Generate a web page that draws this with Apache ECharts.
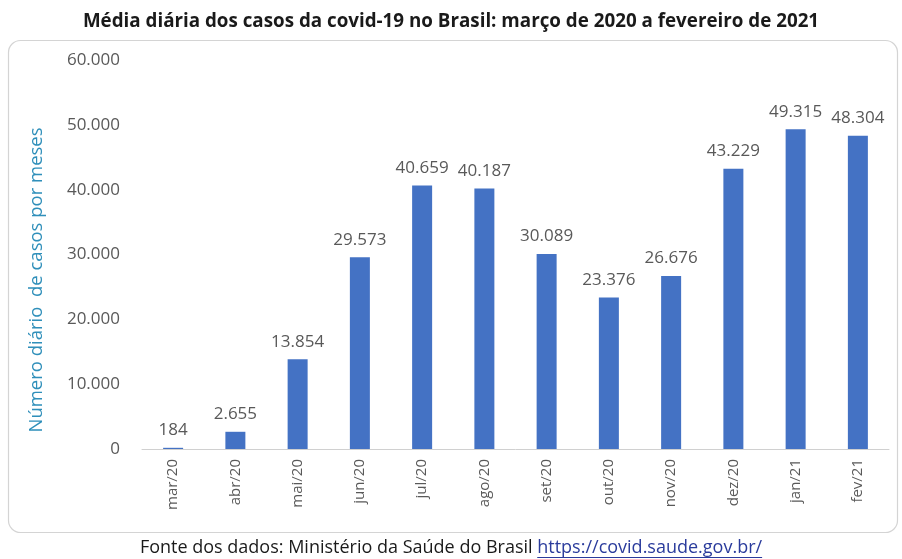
<!DOCTYPE html>
<html>
<head>
<meta charset="utf-8">
<script src="https://cdn.jsdelivr.net/npm/echarts@6/dist/echarts.min.js"></script>
<style>
  html, body { margin: 0; padding: 0; background: #fff; }
  #chart { width: 902px; height: 559px; }
</style>
</head>
<body>
<div id="chart"></div>
<script>
// Monthly average of daily COVID-19 cases in Brazil
const months = ['mar/20', 'abr/20', 'mai/20', 'jun/20', 'jul/20', 'ago/20',
                'set/20', 'out/20', 'nov/20', 'dez/20', 'jan/21', 'fev/21'];
const dailyCases = [184, 2655, 13854, 29573, 40659, 40187,
                    30089, 23376, 26676, 43229, 49315, 48304];
const yTicks = [0, 10000, 20000, 30000, 40000, 50000, 60000];

// Brazilian number format: dot as thousands separator
const fmt = v => String(Math.round(v)).replace(/\B(?=(\d{3})+(?!\d))/g, '.');

const chart = echarts.init(document.getElementById('chart'));
const font = '"Open Sans", "Noto Sans", sans-serif';

// Footer: source note followed by an underlined link
const footSize = 18;
const footA = 'Fonte dos dados: Ministério da Saúde do Brasil ';
const footB = 'https://covid.saude.gov.br/';
const ctx = document.createElement('canvas').getContext('2d');
ctx.font = footSize + 'px ' + font;
const wA = ctx.measureText(footA).width;
const wB = ctx.measureText(footB).width;
const footX = 451 - (wA + wB) / 2;
const footY = 548;

chart.setOption({
  animation: false,
  backgroundColor: '#ffffff',
  title: {
    text: 'Média diária dos casos da covid-19 no Brasil: março de 2020 a fevereiro de 2021',
    left: 'center',
    top: 7,
    textStyle: { fontFamily: font, fontWeight: 'bold', fontSize: 18.8, color: '#1a1a1a' }
  },
  graphic: [
    {
      type: 'rect',
      shape: { x: 8.5, y: 40.5, width: 889, height: 492, r: 12 },
      style: { fill: 'none', stroke: '#d4d4d4', lineWidth: 1.2 },
      silent: true
    },
    {
      type: 'text',
      x: 37, y: 280,
      rotation: Math.PI / 2,
      style: {
        text: 'Número diário  de casos por meses',
        fontFamily: font, fontSize: 18.5, fill: '#2f8fba',
        align: 'center', verticalAlign: 'middle'
      }
    },
    {
      type: 'text',
      x: footX, y: footY,
      style: {
        text: footA, fontFamily: font, fontSize: footSize, fill: '#1a1a1a',
        align: 'left', verticalAlign: 'middle'
      }
    },
    {
      type: 'text',
      x: footX + wA, y: footY,
      style: {
        text: footB, fontFamily: font, fontSize: footSize, fill: '#2a3b9c',
        align: 'left', verticalAlign: 'middle'
      }
    },
    {
      type: 'line',
      shape: { x1: footX + wA, y1: footY + 9.5, x2: footX + wA + wB, y2: footY + 9.5 },
      style: { stroke: '#2a3b9c', lineWidth: 1 }
    }
  ],
  grid: { left: 142, right: 13, top: 60, bottom: 110 },
  xAxis: {
    type: 'category',
    data: months,
    axisLine: { show: true, lineStyle: { color: '#d0d0d0', width: 1 } },
    axisTick: { show: false },
    axisLabel: {
      rotate: 90,
      margin: 10,
      fontFamily: font,
      fontSize: 15,
      color: '#595959'
    }
  },
  yAxis: {
    type: 'value',
    min: yTicks[0],
    max: yTicks[yTicks.length - 1],
    interval: yTicks[1] - yTicks[0],
    axisLine: { show: false },
    axisTick: { show: false },
    splitLine: { show: false },
    axisLabel: {
      margin: 22,
      fontFamily: font,
      fontSize: 17,
      color: '#595959',
      formatter: v => fmt(v)
    }
  },
  series: [{
    type: 'bar',
    data: dailyCases,
    barWidth: 20,
    itemStyle: { color: '#4472c4' },
    label: {
      show: true,
      position: 'top',
      distance: 9,
      fontFamily: font,
      fontSize: 17,
      color: '#595959',
      formatter: p => fmt(p.value)
    }
  }]
});
</script>
</body>
</html>
